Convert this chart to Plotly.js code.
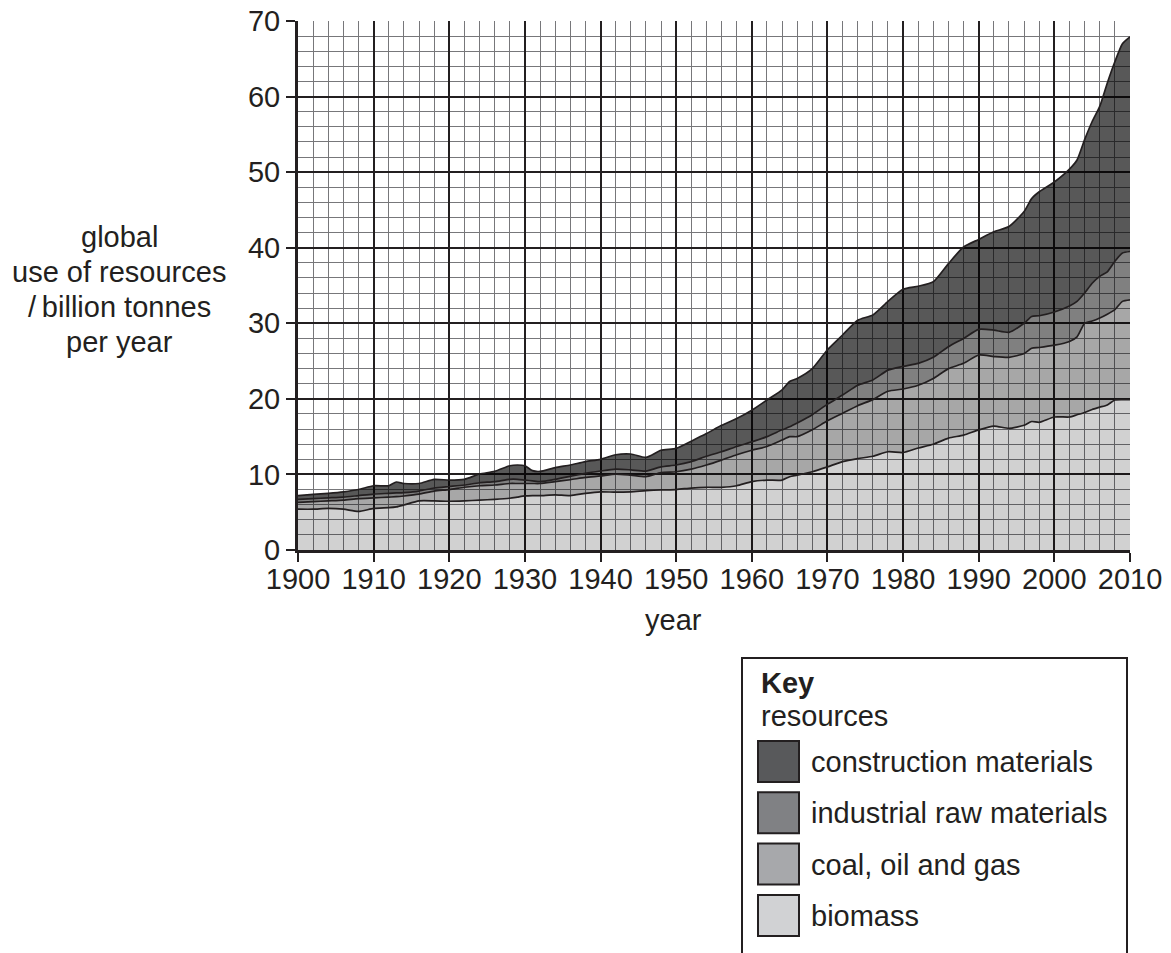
<!DOCTYPE html>
<html>
<head>
<meta charset="utf-8">
<script src="https://cdn.plot.ly/plotly-3.0.1.min.js"></script>
<style>
  html, body { margin: 0; padding: 0; background: #ffffff; }
  #chart { width: 1171px; height: 953px; }
</style>
</head>
<body>
<div id="chart"></div>
<script>
// ---- data (billion tonnes per year) ----
const years = [1900, 1902, 1904, 1906, 1908, 1910, 1912, 1913, 1914, 1916, 1918, 1920, 1922, 1924, 1926, 1928, 1929, 1930, 1931, 1932, 1934, 1936, 1938, 1940, 1942, 1944, 1946, 1948, 1950, 1952, 1954, 1956, 1958, 1960, 1962, 1964, 1965, 1966, 1968, 1970, 1972, 1974, 1976, 1978, 1980, 1982, 1984, 1986, 1988, 1990, 1992, 1994, 1996, 1997, 1998, 2000, 2002, 2003, 2004, 2005, 2006, 2007, 2008, 2009, 2010];

const biomass = [5.4, 5.4, 5.5, 5.4, 5.1, 5.5, 5.6, 5.7, 5.95, 6.5, 6.5, 6.45, 6.5, 6.6, 6.7, 6.85, 7.0, 7.15, 7.2, 7.2, 7.3, 7.2, 7.5, 7.7, 7.65, 7.7, 7.85, 7.95, 8.0, 8.2, 8.3, 8.3, 8.5, 9.05, 9.25, 9.25, 9.7, 9.9, 10.35, 11.0, 11.7, 12.1, 12.4, 13.0, 12.9, 13.5, 14.0, 14.8, 15.2, 15.9, 16.4, 16.1, 16.5, 17.0, 16.9, 17.6, 17.6, 17.9, 18.2, 18.6, 18.9, 19.2, 19.85, 19.9, 19.9];

const coalOilGas = [0.9, 1.0, 1.0, 1.2, 1.7, 1.4, 1.4, 1.35, 1.2, 0.9, 1.3, 1.55, 1.8, 1.9, 1.9, 1.95, 1.8, 1.65, 1.6, 1.6, 1.75, 2.1, 2.1, 2.1, 2.4, 2.2, 1.85, 2.3, 2.35, 2.5, 2.95, 3.6, 4.1, 4.15, 4.45, 5.3, 5.3, 5.1, 5.55, 6.1, 6.4, 7.0, 7.5, 8.0, 8.4, 8.3, 8.7, 9.2, 9.5, 9.9, 9.2, 9.4, 9.5, 9.7, 9.9, 9.5, 10.0, 10.3, 11.8, 11.7, 11.8, 12.0, 11.95, 13.0, 13.2];

const industrialRaw = [0.4, 0.4, 0.4, 0.4, 0.4, 0.5, 0.5, 0.5, 0.45, 0.4, 0.4, 0.4, 0.3, 0.4, 0.45, 0.55, 0.55, 0.45, 0.35, 0.25, 0.3, 0.45, 0.55, 0.65, 0.65, 0.7, 0.75, 0.75, 0.9, 1.0, 1.15, 1.1, 1.1, 1.1, 1.3, 1.35, 1.3, 1.8, 2.0, 2.2, 2.4, 2.7, 2.6, 2.8, 3.0, 2.9, 2.8, 2.9, 3.3, 3.4, 3.5, 3.3, 4.0, 4.2, 4.2, 4.4, 4.7, 4.7, 4.0, 5.0, 5.5, 5.6, 6.4, 6.4, 6.4];

const construction = [0.5, 0.55, 0.6, 0.7, 0.8, 1.1, 1.0, 1.45, 1.2, 1.0, 1.15, 0.85, 0.75, 1.15, 1.35, 1.8, 1.9, 1.9, 1.35, 1.35, 1.55, 1.5, 1.55, 1.55, 1.9, 2.1, 1.8, 2.2, 2.2, 2.7, 3.0, 3.5, 3.7, 4.2, 4.85, 5.3, 6.0, 5.9, 6.1, 7.2, 7.95, 8.6, 8.6, 9.1, 10.2, 10.2, 10.0, 11.0, 12.1, 11.9, 13.0, 14.0, 14.8, 15.6, 16.4, 17.2, 18.1, 18.7, 20.3, 21.4, 22.5, 25.0, 26.4, 27.7, 28.4];

const seriesNames = ['biomass', 'coal, oil and gas', 'industrial raw materials', 'construction materials'];
const seriesValues = [biomass, coalOilGas, industrialRaw, construction];
// target grey levels over white: #d1d2d4, #a7a8ab, #808184, #58595b
const seriesAlpha = [0.18, 0.345, 0.498, 0.655];
const swatchColors = ['#d1d2d4', '#a7a8ab', '#808184', '#58595b'];

const yTitleLines = ['global', 'use of resources', '/\u2009billion tonnes', 'per year'];

// ---- layout geometry ----
const W = 1171, H = 953;
const L = 298, R = 1130, T = 21, B = 550;
const px2x = p => (p - L) / (R - L);
const px2y = p => (B - p) / (B - T);
const FONT = 'Liberation Sans, Arial, Helvetica, sans-serif';
const INK = '#231f20';
const FS = 29;

const traces = seriesNames.map((name, i) => ({
  type: 'scatter',
  mode: 'lines',
  name: name,
  x: years,
  y: seriesValues[i],
  stackgroup: 'res',
  line: { color: INK, width: 1.7, shape: 'spline', smoothing: 0.6 },
  fillcolor: 'rgba(0,0,0,' + seriesAlpha[i] + ')',
  hoverinfo: 'x+y+name',
  showlegend: false
}));

const annotations = [];
const shapes = [];

// y-axis title (horizontal, centred, four lines)
yTitleLines.forEach((t, i) => {
  annotations.push({
    xref: 'paper', yref: 'paper',
    x: px2x(119), y: px2y(237 + i * 35),
    xanchor: 'center', yanchor: 'middle',
    text: t, showarrow: false,
    font: { family: FONT, size: FS, color: INK }
  });
});

// x-axis title
annotations.push({
  xref: 'paper', yref: 'paper',
  x: px2x(673), y: px2y(620),
  xanchor: 'center', yanchor: 'middle',
  text: 'year', showarrow: false,
  font: { family: FONT, size: FS, color: INK }
});

// key box
shapes.push({
  type: 'rect', xref: 'paper', yref: 'paper',
  x0: px2x(742), x1: px2x(1127), y0: px2y(658), y1: px2y(1000),
  line: { color: INK, width: 2 }, fillcolor: 'rgba(0,0,0,0)'
});
annotations.push({
  xref: 'paper', yref: 'paper', x: px2x(759), y: px2y(683),
  xanchor: 'left', yanchor: 'middle', showarrow: false,
  text: '<b>Key</b>', font: { family: FONT, size: FS, color: INK }
});
annotations.push({
  xref: 'paper', yref: 'paper', x: px2x(759), y: px2y(716),
  xanchor: 'left', yanchor: 'middle', showarrow: false,
  text: 'resources', font: { family: FONT, size: FS, color: INK }
});
// key items: top to bottom = construction, industrial, coal, biomass
const keyOrder = [3, 2, 1, 0];
keyOrder.forEach((si, row) => {
  const top = 741 + row * 51.3;
  shapes.push({
    type: 'rect', xref: 'paper', yref: 'paper',
    x0: px2x(758), x1: px2x(799), y0: px2y(top), y1: px2y(top + 41),
    line: { color: INK, width: 2 }, fillcolor: swatchColors[si]
  });
  annotations.push({
    xref: 'paper', yref: 'paper', x: px2x(809), y: px2y(top + 21),
    xanchor: 'left', yanchor: 'middle', showarrow: false,
    text: seriesNames[si], font: { family: FONT, size: FS, color: INK }
  });
});

const axisCommon = {
  tickmode: 'linear', dtick: 10,
  ticks: 'outside', ticklen: 9, tickwidth: 2, tickcolor: INK,
  showline: true, linecolor: INK, linewidth: 3,
  showgrid: true, gridcolor: INK, gridwidth: 2,
  minor: { dtick: 2, showgrid: true, gridcolor: '#77777a', gridwidth: 1, ticks: '' },
  zeroline: false,
  tickfont: { family: FONT, size: FS, color: INK },
  fixedrange: true
};

const layout = {
  width: W, height: H,
  margin: { l: L, r: W - R, t: T, b: H - B, pad: 0 },
  paper_bgcolor: '#ffffff', plot_bgcolor: '#ffffff',
  showlegend: false,
  font: { family: FONT, color: INK },
  xaxis: Object.assign({}, axisCommon, { range: [1900, 2010], tick0: 1900, ticklabelstandoff: -8 }),
  yaxis: Object.assign({}, axisCommon, { range: [0, 70], tick0: 0 }),
  annotations: annotations,
  shapes: shapes
};

Plotly.newPlot('chart', traces, layout, { displayModeBar: false, staticPlot: true });
</script>
</body>
</html>
